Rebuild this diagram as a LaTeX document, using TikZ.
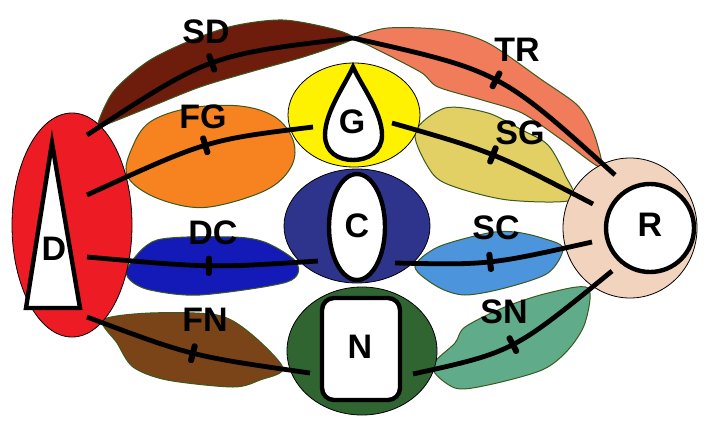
\documentclass[tikz,border=0pt]{standalone}
\usepackage{fontspec}
\setsansfont{Liberation Sans}
\usetikzlibrary{shapes.geometric}

\definecolor{dred}{RGB}{237,28,36}
\definecolor{gyellow}{RGB}{255,242,0}
\definecolor{cblue}{RGB}{46,52,140}
\definecolor{ngreen}{RGB}{48,100,48}
\definecolor{rpeach}{RGB}{242,212,190}
\definecolor{sdcol}{RGB}{110,28,12}
\definecolor{trcol}{RGB}{240,124,92}
\definecolor{fgcol}{RGB}{246,130,32}
\definecolor{sgcol}{RGB}{226,208,100}
\definecolor{dccol}{RGB}{20,26,184}
\definecolor{sccol}{RGB}{76,148,219}
\definecolor{fncol}{RGB}{122,68,24}
\definecolor{sncol}{RGB}{96,172,138}
\definecolor{leafline}{RGB}{60,90,30}

\tikzset{
	zone/.style={ellipse,draw=black,line width=0.4pt,inner sep=0pt},
	core/.style={draw=black,fill=white,line width=2.2pt,inner sep=0pt},
	leaf/.style={draw=leafline,line width=0.5pt},
	link/.style={line width=2.4pt},
	crossbar/.style={sloped,pos=0.5,fill=black,rounded corners=1.2pt,minimum width=3pt,minimum height=10pt,inner sep=0pt},
	lbl/.style={font=\sffamily\bfseries\fontsize{17}{20}\selectfont,inner sep=0pt}
}

\begin{document}
\begin{tikzpicture}[x=0.5pt,y=-0.5pt]
			\useasboundingbox (0,0) rectangle (715,439);
			\filldraw[leaf,fill=sdcol] plot[smooth cycle,tension=0.5] coordinates {(97,127) (113,92) (147,62) (187,42) (233,26) (283,20) (333,29) (353,38) (333,47) (300,58) (250,72) (200,87) (150,107) (110,123)};
			\filldraw[leaf,fill=trcol] plot[smooth cycle,tension=0.5] coordinates {(355,38) (388,28) (445,30) (488,43) (542,80) (575,103) (588,120) (597,143) (600,167) (562,140) (522,113) (482,100) (438,87) (422,73) (388,55) (368,45)};
			\filldraw[leaf,fill=fgcol] plot[smooth cycle,tension=0.6] coordinates {(150,122) (190,108) (240,106) (275,117) (293,140) (292,165) (270,188) (225,204) (190,207) (150,195) (127,175) (132,148)};
			\filldraw[leaf,fill=sgcol] plot[smooth cycle,tension=0.5] coordinates {(415,133) (445,108) (488,113) (522,130) (548,145) (565,175) (572,200) (508,200) (455,187) (432,173)};
			\filldraw[leaf,fill=dccol] plot[smooth cycle,tension=0.5] coordinates {(128,267) (157,240) (233,237) (267,243) (297,263) (287,282) (200,295) (150,290) (130,280)};
			\filldraw[leaf,fill=sccol] plot[smooth cycle,tension=0.5] coordinates {(415,267) (438,247) (488,233) (515,232) (542,238) (563,248) (548,273) (505,288) (465,295) (438,287)};
			\filldraw[leaf,fill=fncol] plot[smooth cycle,tension=0.5] coordinates {(103,320) (150,313) (217,315) (250,333) (283,368) (260,380) (233,387) (167,380) (133,367) (117,343)};
			\filldraw[leaf,fill=sncol] plot[smooth cycle,tension=0.5] coordinates {(588,288) (585,323) (568,350) (542,370) (488,385) (455,388) (432,367) (455,343) (465,327) (505,307) (548,293)};
			\node[zone,fill=dred,minimum width=60pt,minimum height=112pt] (D) at (72,225) {};
			\node[zone,fill=gyellow,minimum width=66pt,minimum height=52pt] (G) at (354,115) {};
			\node[zone,fill=cblue,minimum width=73pt,minimum height=57pt] (C) at (357,226) {};
			\node[zone,fill=ngreen,minimum width=75pt,minimum height=64pt] (N) at (362,351) {};
			\node[zone,fill=rpeach,minimum width=67pt,minimum height=70pt] (R) at (630,228) {};
			\draw[core,line join=miter] (52,143) -- (80,308) -- (26,308) -- cycle;
			\draw[core] (353,67) .. controls (345,85) and (325,112) .. (325,135) .. controls (325,152) and (338,160) .. (353,160) .. controls (368,160) and (382,152) .. (382,135) .. controls (382,112) and (361,85) .. (353,67) -- cycle;
			\node[core,ellipse,minimum width=28pt,minimum height=53pt] (Ci) at (357,227) {};
			\node[core,rectangle,rounded corners=6pt,minimum width=39pt,minimum height=51pt] (Ni) at (361,349) {};
			\node[core,circle,minimum size=44pt] (Ri) at (650,228) {};
			\node[lbl] (Dl) at (54,249) {D};
			\node[lbl] (Gl) at (352,122) {G};
			\node[lbl] (Cl) at (357,226) {C};
			\node[lbl] (Nl) at (360,347) {N};
			\node[lbl] (Rl) at (650,225) {R};
			\coordinate (top) at (353,38);
			\coordinate (d1) at (87,135);
			\coordinate (d2) at (87,195);
			\coordinate (d3) at (87,257);
			\coordinate (d4) at (87,317);
			\coordinate (g1) at (313,127);
			\coordinate (g2) at (392,123);
			\coordinate (c1) at (318,261);
			\coordinate (c2) at (395,263);
			\coordinate (n1) at (310,373);
			\coordinate (n2) at (413,374);
			\coordinate (r1) at (615,175);
			\coordinate (r2) at (593,204);
			\coordinate (r3) at (592,242);
			\coordinate (r4) at (612,271);
			\draw[link] (d1) .. controls (209,55) .. (top) node[crossbar]{};
			\draw[link] (top) .. controls (500,71) .. (r1) node[crossbar]{};
			\draw[link] (d2) .. controls (207,140) .. (g1) node[crossbar]{};
			\draw[link] (g2) .. controls (493,152) .. (r2) node[crossbar]{};
			\draw[link] (d3) .. controls (211,268) .. (c1) node[crossbar]{};
			\draw[link] (c2) .. controls (489,265) .. (r3) node[crossbar]{};
			\draw[link] (d4) .. controls (191,356) .. (n1) node[crossbar]{};
			\draw[link] (n2) .. controls (513,352) .. (r4) node[crossbar]{};
			\node[lbl] (SD) at (206,32) {SD};
			\node[lbl] (TR) at (517,50) {TR};
			\node[lbl] (FG) at (203,117) {FG};
			\node[lbl] (SG) at (520,133) {SG};
			\node[lbl] (DC) at (213,233) {DC};
			\node[lbl] (SC) at (496,228) {SC};
			\node[lbl] (FN) at (205,320) {FN};
			\node[lbl] (SN) at (504,312) {SN};
		\end{tikzpicture}
\end{document}
